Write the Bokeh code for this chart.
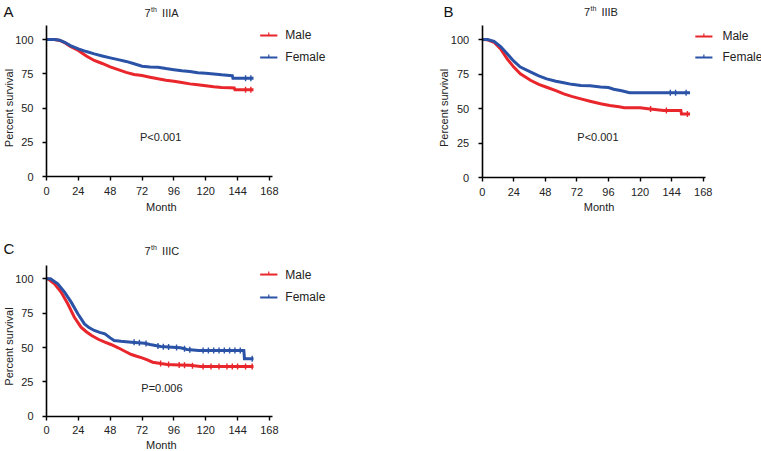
import numpy as np
from bokeh.plotting import figure
from bokeh.models import Range1d, FixedTicker, Label
from bokeh.layouts import column, row
from bokeh.embed import file_html
from bokeh.resources import INLINE

RED = "#E8262B"
BLUE = "#2A52A6"
FONT = "Liberation Sans"
TXT = "#222222"

month_ticks = [0, 24, 48, 72, 96, 120, 144, 168]
surv_ticks = [0, 25, 50, 75, 100]
series_names = ["Male", "Female"]

# ---- Panel A: 7th IIIA ----
a_male_t = [0, 6, 10, 14, 18, 24, 30, 36, 42, 48, 54, 60, 66, 72, 78, 84, 90, 96, 102, 108, 114, 120, 126, 132, 138, 141.5, 142, 156]
a_male_s = [100, 100, 99.3, 97.5, 95, 92, 88, 84.7, 82.5, 80, 78, 76, 74.5, 73.7, 72.5, 71.3, 70.3, 69.6, 68.6, 67.6, 67, 66.2, 65.5, 65, 64.8, 64.6, 63.3, 63.3]
a_female_t = [0, 6, 10, 14, 18, 24, 30, 36, 42, 48, 54, 60, 66, 72, 78, 84, 90, 96, 102, 108, 114, 120, 126, 132, 138, 140, 140.5, 156]
a_female_s = [100, 100, 99.5, 97.8, 95.6, 93.2, 91.2, 89.5, 88, 86.6, 85.3, 84, 82.3, 80.5, 80, 79.8, 78.8, 78, 77.2, 76.6, 75.8, 75.4, 74.8, 74.2, 73.8, 73.6, 71.8, 71.8]
a_male_cens = [150, 154]
a_female_cens = [150, 154]

# ---- Panel B: 7th IIIB ----
b_male_t = [0, 4, 9, 14, 19, 24, 29, 37, 43, 49, 56, 62, 68, 75, 82, 90, 97, 104, 108, 120, 126, 138, 151, 151.5, 158]
b_male_s = [100, 99.8, 98, 93.2, 86, 80, 75.1, 70.3, 67.5, 65.4, 63, 60.6, 58.8, 57, 55.3, 53.4, 52.2, 51.2, 50.5, 50.5, 49.8, 48.6, 48.6, 46.1, 46.1]
b_female_t = [0, 4, 9, 14, 19, 24, 29, 37, 43, 49, 56, 62, 68, 75, 82, 90, 96, 100, 106, 112, 158]
b_female_s = [100, 100, 98.7, 94.9, 89.6, 84.3, 80, 76.3, 73.7, 71.5, 69.8, 68.6, 67.5, 66.7, 66.4, 65.6, 65.2, 64, 62.8, 61.4, 61.4]
b_male_cens = [128, 140, 156]
b_female_cens = [143, 147, 155]

# ---- Panel C: 7th IIIC ----
c_male_t = [0, 1, 6, 11, 16, 21, 26, 30, 34, 39, 44, 49, 54, 59, 64, 68, 72, 76, 80, 86, 91, 100, 108, 116, 156]
c_male_s = [100, 100, 96.4, 90.3, 81.8, 72, 64.8, 61.5, 58.7, 56, 53.9, 52, 49.8, 47.3, 44.9, 43.6, 42.5, 41, 39.3, 38.3, 37.6, 37.3, 37, 36.2, 36.2]
c_female_t = [0, 3, 8.5, 13.6, 18.6, 23.6, 28.6, 32, 36, 40, 44, 48, 51, 56, 64, 74, 78, 86, 101, 106, 114.8, 148.7, 149.2, 156]
c_female_s = [100, 100, 96.4, 90.3, 83, 74.5, 67.2, 64.5, 62.4, 61, 60, 57, 55.1, 54.5, 53.9, 53.1, 52.2, 50.7, 49.8, 48.5, 47.8, 47.8, 41.8, 41.8]
c_male_cens = [86, 92, 100, 104, 110, 118, 124, 130, 136, 140, 144, 150, 155]
c_female_cens = [66, 70, 75, 84, 88, 92, 98, 104, 108, 118, 122, 126, 130, 134, 138, 142, 146, 155]

# layout: figure size, pixel position of the (0,0) origin inside it, px per unit
panels = [
    dict(letter="A", stage="IIIA", p_text="P<0.001",
         m_t=a_male_t, m_s=a_male_s, f_t=a_female_t, f_s=a_female_s,
         m_c=a_male_cens, f_c=a_female_cens,
         width=380, height=220, ox=46, oy=176, xs=1.327, ys=1.37,
         letter_xy=(-32.4, 126.3), title_xy=(86, 119.3), p_xy=(86, 28.5),
         ylab_xy=(-28.3, 50), xlab_xy=(86.5, -22.6),
         leg_x=(161, 174), leg_y=(103, 86.9), leg_tx=180),
    dict(letter="B", stage="IIIB", p_text="P<0.001",
         m_t=b_male_t, m_s=b_male_s, f_t=b_female_t, f_s=b_female_s,
         m_c=b_male_cens, f_c=b_female_cens,
         width=381, height=220, ox=101.7, oy=177, xs=1.3155, ys=1.38,
         letter_xy=(-29.4, 126.1), title_xy=(89.5, 119.8), p_xy=(88, 29),
         ylab_xy=(-28.7, 50.4), xlab_xy=(88.8, -21.5),
         leg_x=(162, 175), leg_y=(102.2, 87), leg_tx=182.6),
    dict(letter="C", stage="IIIC", p_text="P=0.006",
         m_t=c_male_t, m_s=c_male_s, f_t=c_female_t, f_s=c_female_s,
         m_c=c_male_cens, f_c=c_female_cens,
         width=380, height=231, ox=46, oy=195.7, xs=1.327, ys=1.374,
         letter_xy=(-32.4, 127.9), title_xy=(86, 119.9), p_xy=(87, 20.2),
         ylab_xy=(-28.3, 50.7), xlab_xy=(86.5, -21.3),
         leg_x=(161, 174), leg_y=(103.1, 86.4), leg_tx=180),
]


def lab(p, x, y, text, size="11px", align="center", baseline="middle",
        angle=0.0, x_off=0, y_off=0, color=TXT):
    p.add_layout(Label(x=x, y=y, text=text, text_font=FONT, text_font_size=size,
                       text_color=color, text_align=align, text_baseline=baseline,
                       angle=angle, x_offset=x_off, y_offset=y_off))


def make_panel(c):
    W, H = c["width"], c["height"]
    xr = Range1d(-c["ox"] / c["xs"], (W - c["ox"]) / c["xs"])
    yr = Range1d(-(H - c["oy"]) / c["ys"], c["oy"] / c["ys"])
    p = figure(width=W, height=H, output_backend="svg", toolbar_location=None,
               x_range=xr, y_range=yr,
               min_border_left=0, min_border_bottom=0,
               min_border_top=0, min_border_right=0)
    p.outline_line_color = None
    p.grid.visible = False
    p.background_fill_color = "white"

    for ax in (p.xaxis[0], p.yaxis[0]):
        ax.fixed_location = 0
        ax.axis_line_color = "black"
        ax.axis_line_width = 1.6
        ax.major_tick_line_color = "black"
        ax.major_tick_line_width = 1.4
        ax.major_tick_out = 4
        ax.major_tick_in = 0
        ax.minor_tick_line_color = None
        ax.major_label_text_font = FONT
        ax.major_label_text_font_size = "11px"
        ax.major_label_text_color = TXT
    p.xaxis[0].ticker = FixedTicker(ticks=month_ticks)
    p.yaxis[0].ticker = FixedTicker(ticks=surv_ticks)
    p.xaxis[0].bounds = (0, 170)
    p.yaxis[0].bounds = (0, 110)
    p.xaxis[0].major_label_standoff = 6
    p.yaxis[0].major_label_standoff = 9

    # curves with censor ticks
    for t, s, cens, col in ((c["m_t"], c["m_s"], c["m_c"], RED),
                            (c["f_t"], c["f_s"], c["f_c"], BLUE)):
        p.line(t, s, line_color=col, line_width=3, line_join="miter")
        cy = np.interp(cens, t, s)
        p.scatter(cens, cy, marker="dash", angle=np.pi / 2, size=6,
                  line_color=col, line_width=1.4)

    # legend (drawn manually)
    for name, col, ly in zip(series_names, (RED, BLUE), c["leg_y"]):
        x0, x1 = c["leg_x"]
        p.segment(x0=[x0], y0=[ly], x1=[x1], y1=[ly], line_color=col, line_width=2)
        xm = (x0 + x1) / 2
        p.segment(x0=[xm], y0=[ly], x1=[xm], y1=[ly + 3.0 / c["ys"]],
                  line_color=col, line_width=1.2)
        lab(p, c["leg_tx"], ly, name, size="12px", align="left")

    # titles & texts
    tx, ty = c["title_xy"]
    lab(p, tx, ty, "7", size="11px", align="left", x_off=-16)
    lab(p, tx, ty, "th", size="7px", align="left", x_off=-9.5, y_off=4)
    lab(p, tx, ty, c["stage"], size="11px", align="left", x_off=1.5)
    lx, ly = c["letter_xy"]
    lab(p, lx, ly, c["letter"], size="15px", align="left", baseline="top", color="#111111")
    px_, py_ = c["p_xy"]
    lab(p, px_, py_, c["p_text"], size="11px")
    yx, yy = c["ylab_xy"]
    lab(p, yx, yy, "Percent survival", size="11px", angle=np.pi / 2)
    xx, xy = c["xlab_xy"]
    lab(p, xx, xy, "Month", size="11px")
    return p


pA, pB, pC = [make_panel(c) for c in panels]
layout = column(row(pA, pB), pC)

open("out.html", "w").write(file_html(layout, INLINE))
